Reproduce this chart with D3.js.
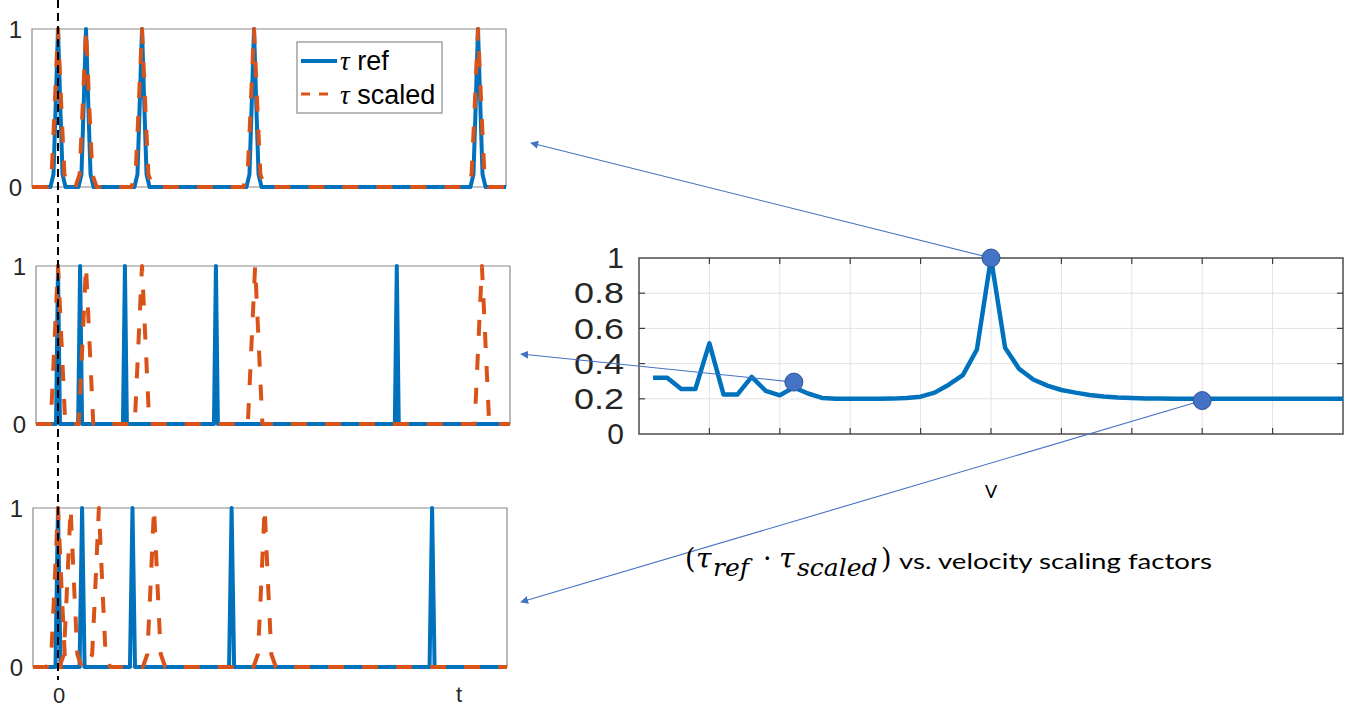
<!doctype html>
<html>
<head>
<meta charset="utf-8">
<script src="https://cdnjs.cloudflare.com/ajax/libs/d3/7.8.5/d3.min.js"></script>
<style>
  body { margin: 0; background: #fff; }
  svg { display: block; }
  text { font-family: "Liberation Sans", Arial, sans-serif; fill: #262626; }
  path.box { fill: none; stroke: #8a8a8a; stroke-width: 1.2; }
  path.ref { fill: none; stroke: #0072BD; stroke-width: 4; stroke-linejoin: round; }
  path.scaled { fill: none; stroke: #D95319; stroke-width: 4; stroke-dasharray: 16 18; stroke-linejoin: round; }
  line.zero { stroke: #000; stroke-width: 2; stroke-dasharray: 8 5; }
  line.grid { stroke: #e2e2e2; stroke-width: 1; }
  line.tick { stroke: #404040; stroke-width: 1.2; }
  rect.frame { fill: none; stroke: #404040; stroke-width: 1.4; }
  path.corr { fill: none; stroke: #0072BD; stroke-width: 4.5; stroke-linejoin: round; }
  circle.pick { fill: #4472C4; stroke: #2F5597; stroke-width: 1; }
  line.arrow { stroke: #4472C4; stroke-width: 1.1; }
  text.math { font-family: "DejaVu Serif", serif; fill: #000; }
</style>
</head>
<body>
<svg width="1355" height="709"></svg>
<script>

// peak times of the pulses in each of the three panels (top, middle, bottom)
var refPeaks = [
  [0, 1, 3, 7, 15],
  [0, 0.79, 2.39, 5.64, 12.1],
  [0, 0.86, 2.66, 6.2, 13.36]
];
var scaledPeaks = [
  [0, 1, 3, 7, 15],
  [0, 1.0, 3.0, 7.04, 15.14],
  [0, 0.45, 1.46, 3.43, 7.38]
];
// half widths of the pulses (time units)
var refWidth = [0.27, 0.07, 0.09];
var scaledWidth = [0.38, 0.26, 0.4];
var pulseTicks = [0, 1];

// right chart: correlation vs velocity scaling factor
var velocity = [0.04, 0.08, 0.12, 0.16, 0.2, 0.24, 0.28, 0.32, 0.36, 0.4,
  0.44, 0.48, 0.52, 0.56, 0.6, 0.64, 0.68, 0.72, 0.76, 0.8,
  0.84, 0.88, 0.92, 0.96, 1.0, 1.04, 1.08, 1.12, 1.16, 1.2,
  1.24, 1.28, 1.32, 1.36, 1.4, 1.44, 1.48, 1.52, 1.56, 1.6,
  1.64, 1.68, 1.72, 1.76, 1.8, 1.84, 1.88, 1.92, 1.96, 2.0];
var corr = [0.32, 0.32, 0.255, 0.255, 0.515, 0.225, 0.225, 0.325, 0.245, 0.22,
  0.265, 0.23, 0.205, 0.2, 0.2, 0.2, 0.2, 0.201, 0.204, 0.212,
  0.235, 0.28, 0.335, 0.48, 1.0, 0.49, 0.37, 0.31, 0.275, 0.25,
  0.235, 0.222, 0.213, 0.207, 0.204, 0.202, 0.201, 0.2, 0.2, 0.2,
  0.2, 0.2, 0.2, 0.2, 0.2, 0.2, 0.2, 0.2, 0.2, 0.2];
var picked = [[0.44, 0.295], [1.0, 1.0], [1.6, 0.19]];
var corrTicks = [0, 0.2, 0.4, 0.6, 0.8, 1];
var velTicks = [0, 0.2, 0.4, 0.6, 0.8, 1, 1.2, 1.4, 1.6, 1.8, 2];

var svg = d3.select("svg");

// ---- left panels ----
var panels = [
  { x0: 32, x1: 506, y0: 29, y1: 187 },
  { x0: 36, x1: 510, y0: 266, y1: 424 },
  { x0: 33, x1: 507, y0: 508, y1: 667 }
];
var x = d3.scaleLinear().domain([0, 16]).range([58, 58 + 16 * 28]);

var soft = [[-1, 0], [-0.6, 0.08], [-0.35, 0.45], [0, 1], [0.35, 0.45], [0.6, 0.08], [1, 0]];
var sharp = [[-1, 0], [0, 1], [1, 0]];
var refShape = [soft, sharp, sharp];
var scaledShape = [soft, sharp, soft];

function pulses(peaks, hw, shape, tMin, tMax) {
  var pts = [[tMin, 0]];
  peaks.forEach(function (p) {
    shape.forEach(function (s) { pts.push([p + s[0] * hw, s[1]]); });
  });
  pts.push([tMax, 0]);
  return pts;
}

panels.forEach(function (p, i) {
  var y = d3.scaleLinear().domain([0, 1]).range([p.y1, p.y0]);
  var g = svg.append("g");
  var tMin = x.invert(p.x0), tMax = x.invert(p.x1);
  var line = d3.line().x(function (d) { return x(d[0]); }).y(function (d) { return y(d[1]); });

  g.append("path").attr("class", "box")
    .attr("d", "M" + p.x0 + "," + p.y0 + "H" + p.x1 + "V" + p.y1 + "H" + p.x0 + "Z");

  g.append("path").attr("class", "ref")
    .attr("d", line(pulses(refPeaks[i], refWidth[i], refShape[i], tMin, tMax)));
  g.append("path").attr("class", "scaled")
    .attr("d", line(pulses(scaledPeaks[i], scaledWidth[i], scaledShape[i], tMin, tMax)));

  g.selectAll("text.yl").data(pulseTicks).enter().append("text")
    .attr("class", "yl")
    .attr("x", p.x0 - 10)
    .attr("y", function (d) { return y(d); })
    .attr("dy", "0.36em")
    .attr("text-anchor", "end")
    .style("font-size", "24px")
    .text(function (d) { return d; });
});

// dashed t = 0 marker
svg.append("line").attr("class", "zero")
  .attr("x1", x(0)).attr("x2", x(0)).attr("y1", 0).attr("y2", 680);

svg.append("text").attr("x", x(0) + 1).attr("y", 703).attr("text-anchor", "middle")
  .style("font-size", "22px").text("0");
svg.append("text").attr("x", 459).attr("y", 702).attr("text-anchor", "middle")
  .style("font-size", "22px").text("t");

// legend
var leg = svg.append("g");
leg.append("rect").attr("x", 297).attr("y", 42).attr("width", 145).attr("height", 71)
  .attr("fill", "#fff").attr("stroke", "#8a8a8a").attr("stroke-width", 1.2);
leg.append("line").attr("x1", 301).attr("x2", 337).attr("y1", 61).attr("y2", 61)
  .attr("stroke", "#0072BD").attr("stroke-width", 4);
leg.append("line").attr("x1", 301).attr("x2", 337).attr("y1", 94).attr("y2", 94)
  .attr("stroke", "#D95319").attr("stroke-width", 3).attr("stroke-dasharray", "9 9");
[["ref", 70], ["scaled", 104]].forEach(function (e) {
  var t = leg.append("text").attr("x", 340).attr("y", e[1]).style("font-size", "27px").style("fill", "#000");
  t.append("tspan").style("font-family", "'Liberation Serif', serif").style("font-style", "italic").text("\u03c4");
  t.append("tspan").text(" " + e[0]);
});

// ---- right chart ----
var xV = d3.scaleLinear().domain([0, 2]).range([639, 1343]);
var yV = d3.scaleLinear().domain([0, 1]).range([434, 258]);
var rc = svg.append("g");

rc.selectAll("line.vg").data(velTicks.slice(1, -1)).enter().append("line")
  .attr("class", "grid")
  .attr("x1", function (d) { return xV(d); }).attr("x2", function (d) { return xV(d); })
  .attr("y1", yV(0)).attr("y2", yV(1));
rc.selectAll("line.hg").data(corrTicks.slice(1, -1)).enter().append("line")
  .attr("class", "grid")
  .attr("y1", function (d) { return yV(d); }).attr("y2", function (d) { return yV(d); })
  .attr("x1", xV(0)).attr("x2", xV(2));

// inward ticks on all four sides
var tl = 6;
velTicks.slice(1, -1).forEach(function (d) {
  rc.append("line").attr("class", "tick").attr("x1", xV(d)).attr("x2", xV(d)).attr("y1", yV(0)).attr("y2", yV(0) - tl);
  rc.append("line").attr("class", "tick").attr("x1", xV(d)).attr("x2", xV(d)).attr("y1", yV(1)).attr("y2", yV(1) + tl);
});
corrTicks.slice(1, -1).forEach(function (d) {
  rc.append("line").attr("class", "tick").attr("y1", yV(d)).attr("y2", yV(d)).attr("x1", xV(0)).attr("x2", xV(0) + tl);
  rc.append("line").attr("class", "tick").attr("y1", yV(d)).attr("y2", yV(d)).attr("x1", xV(2)).attr("x2", xV(2) - tl);
});

rc.append("rect").attr("class", "frame")
  .attr("x", xV(0)).attr("y", yV(1))
  .attr("width", xV(2) - xV(0)).attr("height", yV(0) - yV(1));

var yAxis = d3.axisLeft(yV).tickValues(corrTicks).tickSize(0).tickPadding(15)
  .tickFormat(d3.format("~g"));
var ya = rc.append("g").attr("transform", "translate(" + xV(0) + ",0)").call(yAxis);
ya.select(".domain").remove();
ya.selectAll("text").style("font-size", "30px").style("fill", "#262626")
  .style("font-family", "'Liberation Sans', Arial, sans-serif")
  .attr("textLength", function (d) { return d === 0 || d === 1 ? null : 50; })
  .attr("lengthAdjust", "spacingAndGlyphs");

var corrLine = d3.line()
  .x(function (d, i) { return xV(velocity[i]); })
  .y(function (d) { return yV(d); });
rc.append("path").attr("class", "corr").attr("d", corrLine(corr));

svg.append("text").attr("x", xV(1)).attr("y", 498).attr("text-anchor", "middle")
  .style("font-family", "Lato, 'Open Sans', sans-serif").style("font-size", "18px")
  .style("fill", "#000").text("V");

// arrows from the picked points to the panels
var defs = svg.append("defs");
defs.append("marker").attr("id", "head")
  .attr("viewBox", "0 0 10 10").attr("refX", 9).attr("refY", 5)
  .attr("markerWidth", 8).attr("markerHeight", 8)
  .attr("markerUnits", "userSpaceOnUse")
  .attr("orient", "auto")
  .append("path").attr("d", "M0,0L10,5L0,10Z").attr("fill", "#4472C4");

var targets = [[521, 354], [531, 143], [521, 602]];
svg.selectAll("line.arrow").data(picked).enter().append("line")
  .attr("class", "arrow")
  .attr("x1", function (d) { return xV(d[0]); })
  .attr("y1", function (d) { return yV(d[1]); })
  .attr("x2", function (d, i) { return targets[i][0]; })
  .attr("y2", function (d, i) { return targets[i][1]; })
  .attr("marker-end", "url(#head)");

svg.selectAll("circle.pick").data(picked).enter().append("circle")
  .attr("class", "pick")
  .attr("cx", function (d) { return xV(d[0]); })
  .attr("cy", function (d) { return yV(d[1]); })
  .attr("r", 9);

// caption: (tau_ref . tau_scaled) vs. velocity scaling factors
var capParts = [
  { s: "(", x: 685, y: 568, size: 27, italic: false },
  { s: "\u03c4", x: 696, y: 568, size: 28, italic: true },
  { s: "ref", x: 713, y: 576, size: 25, italic: true },
  { s: "\u00b7", x: 763, y: 568, size: 27, italic: false },
  { s: "\u03c4", x: 779, y: 568, size: 28, italic: true },
  { s: "scaled", x: 797, y: 576, size: 25, italic: true },
  { s: ")", x: 881, y: 568, size: 27, italic: false }
];
svg.selectAll("text.math").data(capParts).enter().append("text")
  .attr("class", "math")
  .attr("x", function (d) { return d.x; })
  .attr("y", function (d) { return d.y; })
  .style("font-size", function (d) { return d.size + "px"; })
  .style("font-style", function (d) { return d.italic ? "italic" : "normal"; })
  .text(function (d) { return d.s; });

svg.append("text").attr("x", 899).attr("y", 569)
  .style("font-family", "Lato, 'Open Sans', sans-serif").style("font-size", "22px").style("fill", "#000")
  .attr("textLength", 313).attr("lengthAdjust", "spacingAndGlyphs")
  .text("vs. velocity scaling factors");

</script>
</body>
</html>
